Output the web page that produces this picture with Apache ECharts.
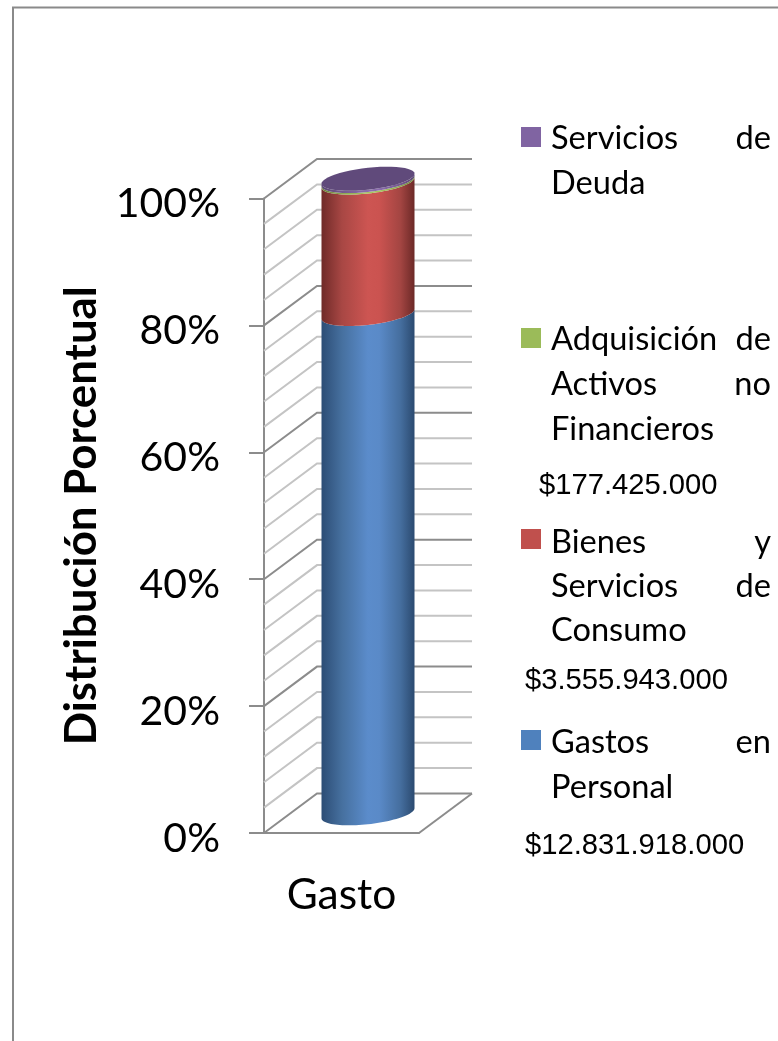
<!DOCTYPE html>
<html><head><meta charset="utf-8">
<style>html,body{margin:0;padding:0;background:#fff}#c{width:778px;height:1041px}</style>
<script src="https://cdn.jsdelivr.net/npm/echarts@6/dist/echarts.min.js"></script></head>
<body><div id="c"></div>
<script>
var categories = ['Gasto'];
var seriesNames = ['Gastos en Personal','Bienes y Servicios de Consumo','Adquisición de Activos no Financieros','Servicios de Deuda'];
var gastosPersonal = [78.7];
var bienesServicios = [20.7];
var adquisicion = [0.25];
var serviciosDeuda = [0.35];
var gridTicks = [0,4,8,12,16,20,24,28,32,36,40,44,48,52,56,60,64,68,72,76,80,84,88,92,96,100];
var axisTitle = 'Distribución Porcentual';
var amountGastos = '$12.831.918.000', amountBienes = '$3.555.943.000', amountAdq = '$177.425.000';

var DX = 53, DY = -39.5, RX = 46.5, RY = 11, SHEAR = -5;
var F = 'Lato, Carlito, sans-serif';
var palette = [
 {base:'#4f81bd', stops:['#2c4d75','#46709f','#5b8ccb','#5a8ac8','#456e9e','#2b4a70']},
 {base:'#c0504d', stops:['#6f2a28','#a84744','#cd5552','#cb5350','#a34542','#6c2927']},
 {base:'#9bbb59', stops:['#6d843d','#8ba84f','#a5c65f','#a5c65f','#8ba84f','#6d843d']},
 {base:'#8064a2', stops:['#5a4672','#74598f','#8a6cad','#8a6cad','#74598f','#5a4672']}
];
var values = [gastosPersonal, bienesServicios, adquisicion, serviciosDeuda];

function arc(cx, cy, from, to) {
  var pts = [];
  for (var i = 0; i <= 48; i++) {
    var t = from + (to - from) * i / 48;
    pts.push([cx + RX * Math.cos(t), cy + RY * Math.sin(t) + SHEAR * Math.cos(t)]);
  }
  return pts;
}
function gradient(stops) {
  var offs = [0, .22, .5, .62, .85, 1];
  return new echarts.graphic.LinearGradient(0, 0, 1, 0, stops.map(function (c, i) { return {offset: offs[i], color: c}; }));
}
function wallItem(params, api) {
  var v = api.value(0), major = v % 20 === 0;
  var p = api.coord([0, v]);
  var band = api.size([1, 0])[0];
  var x0 = p[0] - band / 2, y = p[1];
  var s = {stroke: major ? '#8c8c8c' : '#c4c4c4', lineWidth: 2, fill: null};
  return {type: 'polyline', shape: {points: [[x0, y], [x0 + DX, y + DY], [x0 + DX + band, y + DY]]}, style: s};
}
function floorItem(params, api) {
  var p = api.coord([0, 0]), band = api.size([1, 0])[0];
  var x0 = p[0] - band / 2, y = p[1];
  return {type: 'polyline', shape: {points: [[x0 + band, y], [x0 + band + DX, y + DY]]}, style: {stroke: '#8c8c8c', lineWidth: 2, fill: null}};
}
function cylinderItem(idx) {
  return function (params, api) {
    var low = api.coord([0, api.value(1)]), high = api.coord([0, api.value(2)]);
    var cx = low[0] + DX / 2, yl = low[1] + DY / 2, yh = high[1] + DY / 2;
    var pts = arc(cx, yl, 0, Math.PI).concat(arc(cx, yh, Math.PI, 0));
    var kids = [{type: 'polygon', shape: {points: pts}, style: {fill: gradient(palette[idx].stops)}}];
    if (idx === values.length - 1) {
      kids.push({type: 'polygon', shape: {points: arc(cx, yh, 0, 2 * Math.PI)}, style: {fill: '#604a7b'}});
    }
    return {type: 'group', children: kids};
  };
}
var base = 0, series = [];
series.push({type: 'custom', silent: true, z: 1, clip: false, renderItem: wallItem,
  data: gridTicks.map(function (t) { return [t]; }), encode: {y: 0}});
series.push({type: 'custom', silent: true, z: 1, clip: false, renderItem: floorItem, data: [[0]], encode: {y: 0}});
values.forEach(function (arr, i) {
  series.push({type: 'custom', name: seriesNames[i], z: 2 + i, clip: false, silent: true,
    itemStyle: {color: palette[i].base}, renderItem: cylinderItem(i),
    data: [[0, base, base + arr[0]]], encode: {x: 0, y: [1, 2]}});
  base += arr[0];
});

function txt(text, x, y, opt) {
  opt = opt || {};
  return {type: 'text', silent: true, style: {text: text, x: x, y: y, fill: opt.fill || '#000',
    font: (opt.size || 32.6) + 'px ' + (opt.family || F), textAlign: opt.align || 'left', textVerticalAlign: 'middle'}};
}
var LX = 551, RXT = 771, AF = '"Liberation Sans", Arial, sans-serif', AS = 29.2;
var graphics = [
  {type: 'polyline', silent: true, shape: {points: [[13, 1041], [13, 7.5], [778, 7.5]]}, style: {stroke: '#8a8a8a', lineWidth: 2, fill: null}},
  txt('Servicios', LX, 138), txt('de', RXT, 138, {align: 'right'}), txt('Deuda', LX, 183),
  txt('Adquisición', LX, 339), txt('de', RXT, 339, {align: 'right'}),
  txt('Activos', LX, 384), txt('no', RXT, 384, {align: 'right'}), txt('Financieros', LX, 429),
  txt(amountAdq, 539, 486, {size: AS, family: AF}),
  txt('Bienes', LX, 542), txt('y', RXT, 542, {align: 'right'}),
  txt('Servicios', LX, 586), txt('de', RXT, 586, {align: 'right'}), txt('Consumo', LX, 630),
  txt(amountBienes, 525, 681, {size: AS, family: AF}),
  txt('Gastos', LX, 742), txt('en', RXT, 742, {align: 'right'}), txt('Personal', LX, 787),
  txt(amountGastos, 525, 846, {size: AS, family: AF})
];
var chart = echarts.init(document.getElementById('c'), null, {renderer: 'canvas'});
chart.setOption({
  animation: false, backgroundColor: '#fff',
  grid: {left: 264, top: 198.5, width: 155, height: 634.5, containLabel: false},
  legend: {orient: 'vertical', left: 521, top: 127, padding: 0, itemWidth: 20, itemHeight: 20, itemGap: 181,
    icon: 'rect', selectedMode: false, formatter: function () { return ' '; }, textStyle: {fontSize: 10},
    data: seriesNames.slice().reverse()},
  xAxis: {type: 'category', data: categories,
    axisLine: {show: true, lineStyle: {color: '#8c8c8c', width: 2}}, axisTick: {show: false},
    axisLabel: {margin: 41, fontSize: 42.5, fontFamily: F, color: '#000'}},
  yAxis: {type: 'value', min: 0, max: 100, interval: 20,
    name: axisTitle, nameLocation: 'middle', nameGap: 160, nameRotate: 90,
    nameTextStyle: {fontSize: 43.8, fontWeight: 'bold', fontFamily: F, color: '#000'},
    axisLine: {show: true, lineStyle: {color: '#8c8c8c', width: 2}},
    axisTick: {show: true, length: 15, lineStyle: {color: '#8c8c8c', width: 2}},
    splitLine: {show: false},
    axisLabel: {margin: 44, fontSize: 41, fontFamily: F, color: '#000', formatter: '{value}%', verticalAlign: 'top', lineHeight: 11}},
  series: series,
  graphic: graphics
});
</script></body></html>
